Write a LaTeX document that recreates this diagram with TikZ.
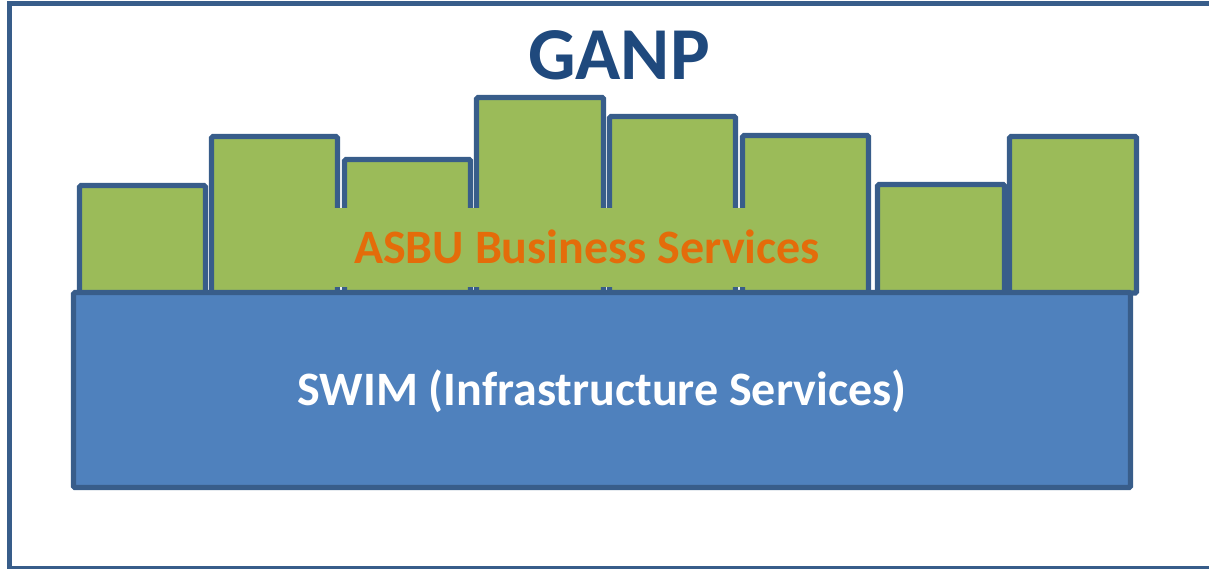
\documentclass[tikz,border=0pt]{standalone}
\usepackage{fontspec}
\setmainfont{Carlito}
\usetikzlibrary{fit}
\definecolor{edgeblue}{HTML}{385D8A}
\definecolor{boxgreen}{HTML}{9BBB59}
\definecolor{swimblue}{HTML}{4F81BD}
\definecolor{asbuorange}{HTML}{E46C0A}
\definecolor{ganpblue}{HTML}{1F497D}
\begin{document}
\begin{tikzpicture}[x=0.75pt,y=-0.75pt,
  gbox/.style={draw=edgeblue,fill=boxgreen,line width=3.8pt,inner sep=0pt,rounded corners=1pt},
  bbox/.style={draw=edgeblue,fill=swimblue,line width=3.8pt,inner sep=0pt,rounded corners=1pt},
  frame/.style={draw=edgeblue,line width=3.6pt},
  txt/.style={inner sep=0pt,anchor=base,font=\fontsize{36}{36}\selectfont\bfseries}]
\useasboundingbox (0,0) rectangle (1209,568);
\clip (0,0) rectangle (1209,568);
\node[frame,inner sep=0pt,fit={(9.5,3.5) (1225,568.5)}] (frm) {};
% green columns
\node[gbox,fit={(79.5,185.5) (205.5,293)}] (c1) {};
\node[gbox,fit={(211.5,136.5) (337.5,293)}] (c2) {};
\node[gbox,fit={(344.5,159.5) (470.5,293)}] (c3) {};
\node[gbox,fit={(476.5,97.5) (603.5,293)}] (c4) {};
\node[gbox,fit={(609.5,116.5) (735.5,293)}] (c5) {};
\node[gbox,fit={(742.5,135.5) (868.5,293)}] (c6) {};
\node[gbox,fit={(877.5,184.5) (1004.5,293)}] (c7) {};
\node[gbox,fit={(1009.5,136.5) (1136.5,293)}] (c8) {};
% ASBU label panel
\node[fill=boxgreen,inner sep=0pt,fit={(330,208) (845,287)}] (asbupanel) {};
% SWIM bar
\node[bbox,fit={(73.5,292.5) (1130.5,487.5)}] (swim) {};
% texts
\node[txt,text=ganpblue,font=\fontsize{56}{56}\selectfont\bfseries] (ganp) at (619,79) {GANP};
\node[txt,text=asbuorange] (asbu) at (587,263) {ASBU Business Services};
\node[txt,text=white] (swimtxt) at (602,405) {SWIM (Infrastructure Services)};
\end{tikzpicture}
\end{document}
